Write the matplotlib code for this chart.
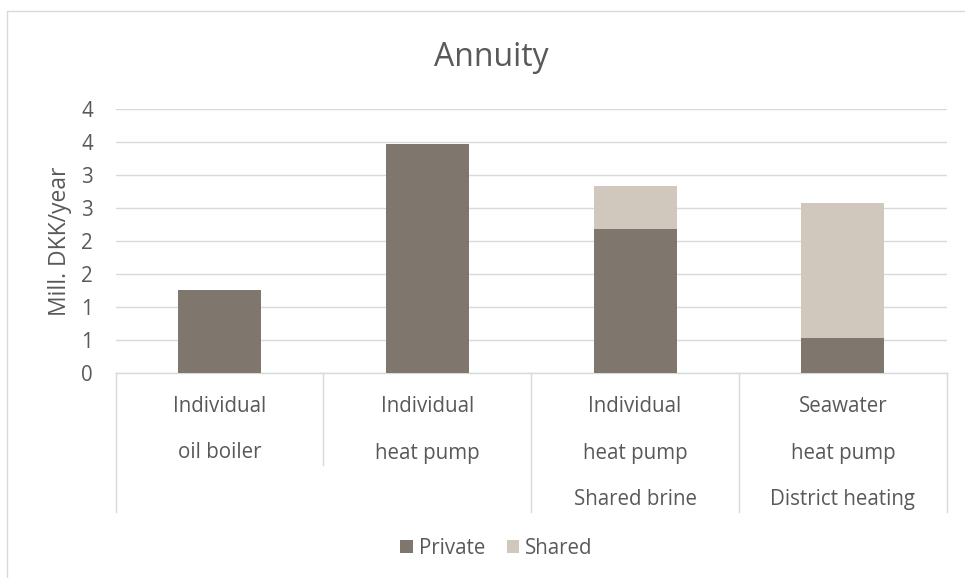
import matplotlib
matplotlib.use("Agg")
import matplotlib.pyplot as plt
from matplotlib.lines import Line2D
from matplotlib.patches import Rectangle

plt.rcParams['font.family'] = ['Open Sans', 'DejaVu Sans']

# ---- data ----
category_top = ["Individual", "Individual", "Individual", "Seawater"]
category_mid = ["oil boiler", "heat pump", "heat pump", "heat pump"]
group_labels = ["", "Shared brine", "District heating"]
group_sizes = [2, 1, 1]
private = [1.25, 3.47, 2.18, 0.52]
shared = [0.0, 0.0, 0.66, 2.06]
y_ticks = [0, 0.5, 1.0, 1.5, 2.0, 2.5, 3.0, 3.5, 4.0]
y_tick_labels = ["0", "1", "1", "2", "2", "3", "3", "4", "4"]
series_names = ["Private", "Shared"]

# ---- style ----
TEXT = "#595959"
GRID = "#D9D9D9"
C_PRIVATE = "#7F776E"
C_SHARED = "#D0C8BD"
FS = 14.8

W, H = 965, 578
fig = plt.figure(figsize=(W / 100, H / 100), dpi=100)

# chart-area frame
fig.patches.append(Rectangle((7 / W, -0.1), 1.2, 1.1 - 11 / H,
                             transform=fig.transFigure, fill=False,
                             edgecolor=GRID, lw=1.0))

left, right, top, bottom = 115.7, 946.7, 109.3, 372.7
ax = fig.add_axes([left / W, 1 - bottom / H, (right - left) / W, (bottom - top) / H])

x = list(range(len(private)))
bars_p = ax.bar(x, private, width=0.4, color=C_PRIVATE, linewidth=0, zorder=3,
                label=series_names[0])
bars_s = ax.bar(x, shared, width=0.4, bottom=private, color=C_SHARED, linewidth=0,
                zorder=3, label=series_names[1])

ax.set_xlim(-0.5, len(private) - 0.5)
ax.set_ylim(0, 4)
ax.set_yticks(y_ticks)
ax.set_yticklabels(y_tick_labels)
ax.set_xticks([])
ax.tick_params(axis='y', length=0, pad=16.3, labelsize=FS, labelcolor=TEXT)
for s in ax.spines.values():
    s.set_visible(False)
ax.yaxis.grid(True, color=GRID, lw=1.0, zorder=0)
ax.set_axisbelow(True)

ax.set_ylabel("Mill. DKK/year", fontsize=16.5, color=TEXT)
ax.yaxis.label.set_verticalalignment('center')
ax.yaxis.set_label_coords((60 - left) / (right - left), 0.5)

# multi-level category axis
trans = ax.get_xaxis_transform()
span = bottom - top
def ay(py):
    return (bottom - py) / span

ax.add_line(Line2D([-0.5, len(private) - 0.5], [0, 0], transform=trans,
                   color=GRID, lw=1.0, clip_on=False))
for i in x:
    ax.text(i, ay(411.5), category_top[i], transform=trans, ha='center',
            va='baseline', fontsize=FS, color=TEXT)
    ax.text(i, ay(458.5), category_mid[i], transform=trans, ha='center',
            va='baseline', fontsize=FS, color=TEXT)

start = 0
group_edges = [-0.5]
for lab, n in zip(group_labels, group_sizes):
    centre = start + (n - 1) / 2
    if lab:
        ax.text(centre, ay(505), lab, transform=trans, ha='center',
                va='baseline', fontsize=FS, color=TEXT)
    start += n
    group_edges.append(start - 0.5)

for xe in [i + 0.5 for i in x[:-1]] + [-0.5, len(private) - 0.5]:
    depth = 512 if xe in group_edges else 465
    ax.add_line(Line2D([xe, xe], [0, ay(depth)], transform=trans,
                       color=GRID, lw=1.0, clip_on=False))

# title
fig.text(491.5 / W, 1 - 66 / H, "Annuity", ha='center', va='baseline',
         fontsize=23, color=TEXT)

# legend
fig.legend(handles=[bars_p, bars_s], labels=series_names, loc='center',
           bbox_to_anchor=(496.5 / W, 1 - 548 / H), ncol=2, frameon=False,
           fontsize=FS, labelcolor=TEXT, handlelength=0.62, handleheight=0.62,
           handletextpad=0.29, columnspacing=1.05, borderpad=0)

fig.savefig("out.png", dpi=100)
